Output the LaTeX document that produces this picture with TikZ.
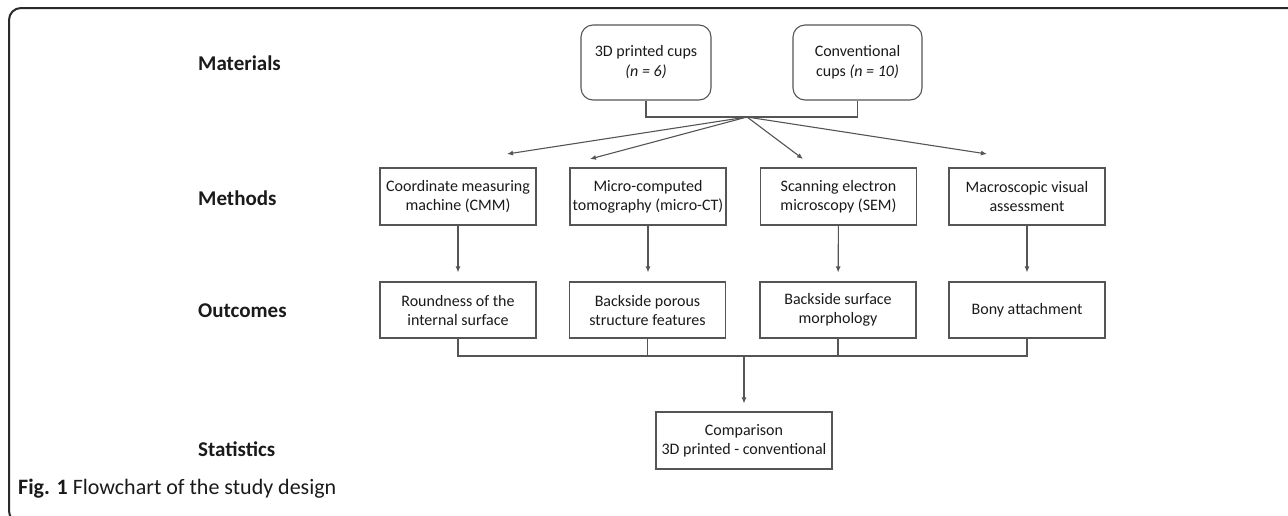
\documentclass[tikz,border=0pt]{standalone}
\usepackage{fontspec}
\setmainfont{Carlito}
\usetikzlibrary{arrows.meta}
\definecolor{boxline}{HTML}{555555}
\definecolor{frameline}{HTML}{2A2A2A}
\definecolor{txt}{HTML}{1A1A1A}
\tikzset{
  rowlabel/.style={anchor=west, font=\fontsize{21}{24}\selectfont\bfseries, text=txt, inner sep=0pt},
  matbox/.style={draw=boxline, line width=1.1pt, rounded corners=12pt, align=center,
     font=\fontsize{16}{20}\selectfont, text=txt, inner sep=0pt},
  stepbox/.style={draw=boxline, line width=1.1pt, align=center,
     font=\fontsize{16}{19}\selectfont, text=txt, inner sep=0pt,
     minimum width=156pt, minimum height=57pt},
  conn/.style={draw=boxline, line width=1.1pt},
  arr/.style={conn, -{Latex[length=6pt,width=5pt]}},
}
\begin{document}
\begin{tikzpicture}[x=1pt,y=-1pt]
\useasboundingbox (0,0) rectangle (1288,515);
% frame
\draw[frameline, line width=2pt, rounded corners=12pt] (1300,8) -- (9,8) -- (9,523) -- (40,523);
% row labels
\node[rowlabel] (lmat) at (198,63) {Materials};
\node[rowlabel] (lmeth) at (198,198) {Methods};
\node[rowlabel] (lout) at (198,311) {Outcomes};
\node[rowlabel] (lstat) at (198,449) {Statistics};
% materials
\node[matbox, minimum width=130pt, minimum height=75pt] (m1) at (646,62.5) {3D printed cups\\\textit{(n = 6)}};
\node[matbox, minimum width=129pt, minimum height=75pt] (m2) at (857.5,62.5) {Conventional\\cups \textit{(n = 10)}};
\coordinate (hub) at (747,117);
\draw[conn] (m1.south) -- (m1.south |- hub) -- (m2.south |- hub) -- (m2.south);
% methods
\node[stepbox] (a1) at (458,196.5) {Coordinate measuring\\machine (CMM)};
\node[stepbox] (a2) at (648,196.5) {Micro-computed\\tomography (micro-CT)};
\node[stepbox] (a3) at (838.5,196.5) {Scanning electron\\microscopy (SEM)};
\node[stepbox] (a4) at (1027,196.5) {Macroscopic visual\\assessment};
\coordinate (t1) at (507,154);
\coordinate (t2) at (590,159);
\coordinate (t3) at (803,159);
\coordinate (t4) at (987,154);
\draw[arr] (hub) -- (t1);
\draw[arr] (hub) -- (t2);
\draw[arr] (hub) -- (t3);
\draw[arr] (hub) -- (t4);
% outcomes
\node[stepbox, minimum height=56pt] (b1) at (458,310) {Roundness of the\\internal surface};
\node[stepbox, minimum height=56pt] (b2) at (647.5,310) {Backside porous\\structure features};
\node[stepbox, minimum height=56pt] (b3) at (838,310) {Backside surface\\morphology};
\node[stepbox, minimum height=56pt] (b4) at (1027,310) {Bony attachment};
\draw[arr, shorten >=9pt] (a1) -- (b1);
\draw[arr, shorten >=9pt] (a2.south) -- (a2.south |- b2.north);
\draw[arr, shorten >=9pt] (a3) -- (b3);
\draw[arr, shorten >=9pt] (a4) -- (b4);
\coordinate (bus) at (744,356);
\draw[conn] (b1.south) -- (b1.south |- bus) -- (b4.south |- bus) -- (b4.south);
\draw[conn] (b2.south) -- (b2.south |- bus);
\draw[conn] (b3.south) -- (b3.south |- bus);
% statistics
\node[stepbox, minimum width=176pt, minimum height=57pt] (c) at (744,440.5) {Comparison\\3D printed - conventional};
\draw[arr, shorten >=8pt] (bus) -- (c.north);
% caption
\node[anchor=west, inner sep=0pt, font=\fontsize{22}{26}\selectfont, text=txt] (cap) at (18,489) {\textbf{Fig. 1} Flowchart of the study design};
\end{tikzpicture}
\end{document}
